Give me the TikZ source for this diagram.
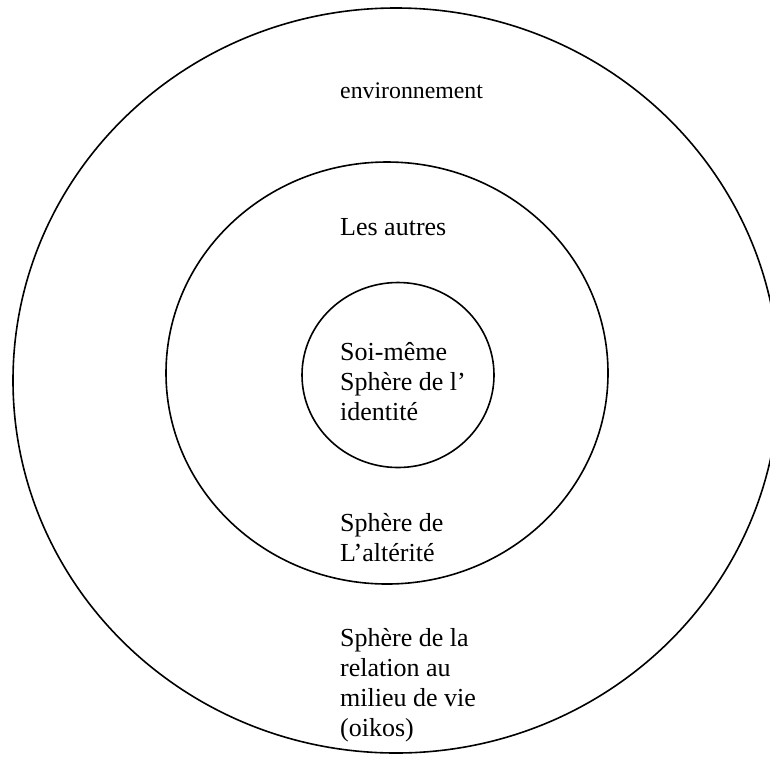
\documentclass[tikz,border=0pt]{standalone}
\usepackage{fontspec}
\setmainfont{Liberation Serif}
\usetikzlibrary{shapes.geometric}
\begin{document}
\begin{tikzpicture}[x=1pt,y=1pt,
  ring/.style={draw=black,line width=1.6pt,ellipse,inner sep=0pt},
  lbl/.style={anchor=base west,inner sep=0pt,align=left,font=\fontsize{26}{30}\selectfont},
  small/.style={anchor=base west,inner sep=0pt,align=left,font=\fontsize{23.8}{28}\selectfont}]
\useasboundingbox (0,0) rectangle (770,-756);
\clip (0,0) rectangle (770,-756);
\fill[white] (0,0) rectangle (770,-756);
\node[ring,minimum width=766pt,minimum height=745pt] (outer) at (396,-380.5) {};
\node[ring,minimum width=442pt,minimum height=422pt] (middle) at (387,-373) {};
\node[ring,minimum width=192pt,minimum height=185pt] (inner) at (398,-375) {};
\node[small] (env) at (340,-98) {environnement};
\node[lbl] (autres) at (340,-235) {Les autres};
\node[lbl] (soi) at (340,-420) {Soi-même\\Sphère de l’\\identité};
\node[lbl] (alter) at (340,-561) {Sphère de\\L’altérité};
\node[lbl] (oikos) at (340,-736) {Sphère de la\\relation au\\milieu de vie\\(oikos)};
\end{tikzpicture}
\end{document}
